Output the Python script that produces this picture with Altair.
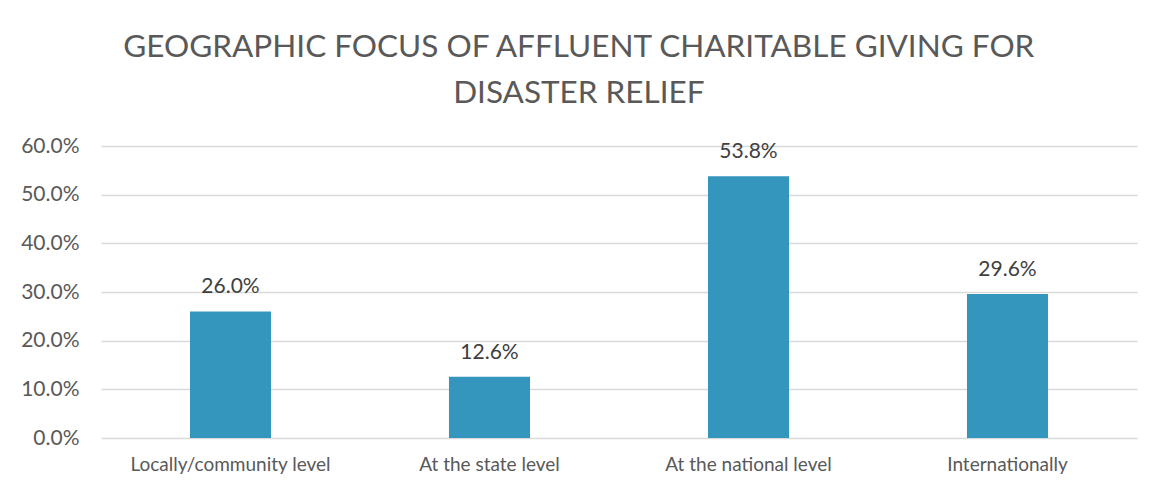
import altair as alt
import pandas as pd

categories = ["Locally/community level", "At the state level", "At the national level", "Internationally"]
values = [0.260, 0.126, 0.538, 0.296]

df = pd.DataFrame({"category": categories, "value": values})

FONT = "Lato"
TXT = "#595959"
BAR = "#3596BD"

base = alt.Chart(df).encode(
    x=alt.X("category:N", sort=categories, title=None,
            scale=alt.Scale(paddingInner=0.687, paddingOuter=0.3435),
            axis=alt.Axis(labelAngle=0, labelFont=FONT, labelFontSize=19, labelColor=TXT,
                          labelPadding=17, labelLimit=400, ticks=False, domain=False, grid=False)),
    y=alt.Y("value:Q", title=None,
            scale=alt.Scale(domain=[0, 0.6], nice=False),
            axis=alt.Axis(format=".1%", values=[0, 0.1, 0.2, 0.3, 0.4, 0.5, 0.6],
                          labelFont=FONT, labelFontSize=21, labelColor=TXT, labelPadding=22,
                          ticks=False, domain=False, gridColor="#D9D9D9", gridWidth=1.3)),
)

bars = base.mark_bar(color=BAR)
labels = base.mark_text(baseline="bottom", dy=-14, font=FONT, fontSize=21, color="#404040").encode(
    text=alt.Text("value:Q", format=".1%")
)

chart = (bars + labels).properties(
    width=1036, height=292,
    title=alt.TitleParams(["GEOGRAPHIC FOCUS OF AFFLUENT CHARITABLE GIVING FOR", "DISASTER RELIEF"],
                          font=FONT, fontSize=31.5, fontWeight="normal", color=TXT,
                          anchor="middle", frame="bounds", lineHeight=46, offset=26),
    autosize=alt.AutoSizeParams(type="none"),
    padding={"left": 93, "top": 138, "right": 21, "bottom": 53},
).configure(background="white").configure_view(strokeWidth=0, stroke="transparent")

chart.save("out.html", embed_options={"renderer": "svg", "actions": False})
